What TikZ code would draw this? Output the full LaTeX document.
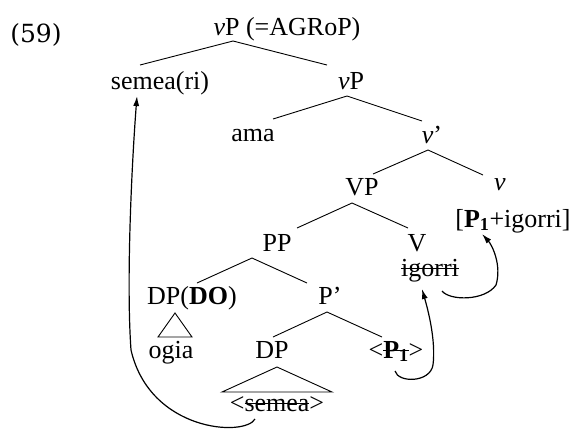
\documentclass[tikz,border=0pt]{standalone}
\usepackage{fontspec}
\setmainfont{Liberation Serif}
\newfontfamily\exfont{DejaVu Serif}
\usetikzlibrary{arrows.meta}
% struck-out text
\newcommand\strk[1]{\setbox0\hbox{#1}\rlap{\copy0}\rule[0.27em]{\wd0}{0.05em}}

\begin{document}
\begin{tikzpicture}[x=1pt,y=-1pt,
    lab/.style={anchor=base,inner sep=0pt,font=\fontsize{26}{30}\selectfont},
    branch/.style={line width=0.9pt},
    move/.style={line width=1.2pt,-{Latex[length=10pt,width=6pt]}}]
    \useasboundingbox (0,0) rectangle (570,432);
    \node[anchor=base,inner sep=0pt,font=\exfont\fontsize{25}{30}\selectfont] (ex) at (36,42) {(59)};
    % the labels
    \node[lab] (top) at (287,35) {\textit{v}P (=AGRoP)};
    \node[lab] (semeari) at (160,89) {semea(ri)};
    \node[lab] (vP2) at (351,89) {\textit{v}P};
    \node[lab] (ama) at (253,141) {ama};
    \node[lab] (vbar) at (432,143) {\textit{v}’};
    \node[lab] (VP) at (362,195) {VP};
    \node[lab] (v) at (500,190) {\textit{v}};
    \node[lab] (vP1) at (513,227) {[\textbf{P}\textsubscript{\textbf{1}}+igorri]};
    \node[lab] (PP) at (277,251) {PP};
    \node[lab] (V) at (417,251) {V};
    \node[lab] (igorri) at (430,276) {\strk{igorri}};
    \node[lab] (DPDO) at (192,304) {DP(\textbf{DO})};
    \node[lab] (Pbar) at (330,304) {P’};
    \node[lab] (ogia) at (171,358) {ogia};
    \node[lab] (DP) at (272,358) {DP};
    \node[lab] (P1) at (396,358) {<\strk{\textbf{P}\textsubscript{\textbf{1}}}>};
    \node[lab] (semea) at (277,411) {<\strk{semea}>};
    % branches
    \draw[branch] ([shift={(-54,6)}]top.base) -- ([shift={(-20,-24)}]semeari.base);
    \draw[branch] ([shift={(-54,6)}]top.base) -- ([shift={(-24,-24)}]vP2.base);
    \draw[branch] ([shift={(-4,7)}]vP2.base) -- ([shift={(20,-22)}]ama.base);
    \draw[branch] ([shift={(-4,7)}]vP2.base) -- ([shift={(-10,-22)}]vbar.base);
    \draw[branch] ([shift={(-4,7)}]vbar.base) -- ([shift={(11,-21)}]VP.base);
    \draw[branch] ([shift={(-4,7)}]vbar.base) -- ([shift={(-17,-15)}]v.base);
    \draw[branch] ([shift={(-10,8)}]VP.base) -- ([shift={(20,-23)}]PP.base);
    \draw[branch] ([shift={(-10,8)}]VP.base) -- ([shift={(-9,-23)}]V.base);
    \draw[branch] ([shift={(-25,7)}]PP.base) -- ([shift={(5,-21)}]DPDO.base);
    \draw[branch] ([shift={(-25,7)}]PP.base) -- ([shift={(-23,-21)}]Pbar.base);
    \draw[branch] ([shift={(-3,8)}]Pbar.base) -- ([shift={(1,-21)}]DP.base);
    \draw[branch] ([shift={(-3,8)}]Pbar.base) -- ([shift={(-14,-21)}]P1.base);
    % triangles
    \draw[branch] ([shift={(-17,9)}]DPDO.base) -- ([shift={(-13,-21)}]ogia.base) -- ([shift={(21,-21)}]ogia.base) -- cycle;
    \draw[branch] ([shift={(5,9)}]DP.base) -- ([shift={(-50,34)}]DP.base) -- ([shift={(60,34)}]DP.base) -- cycle;
    % movement arrows
    \draw[move] ([shift={(-22,8)}]semea.base) .. controls (245,437) and (150,432) .. (131,350)
        .. controls (126,280) and (132,160) .. ([shift={(-23,7)}]semeari.base);
    \draw[move] ([shift={(-1,13)}]P1.base) .. controls (398,383) and (430,383) .. (433,365)
        .. controls (436,340) and (428,310) .. ([shift={(-8,13)}]igorri.base);
    \draw[move] ([shift={(12,15)}]igorri.base) .. controls (450,301) and (485,301) .. (496,285)
        .. controls (502,265) and (492,245) .. ([shift={(-31,7)}]vP1.base);
\end{tikzpicture}
\end{document}
